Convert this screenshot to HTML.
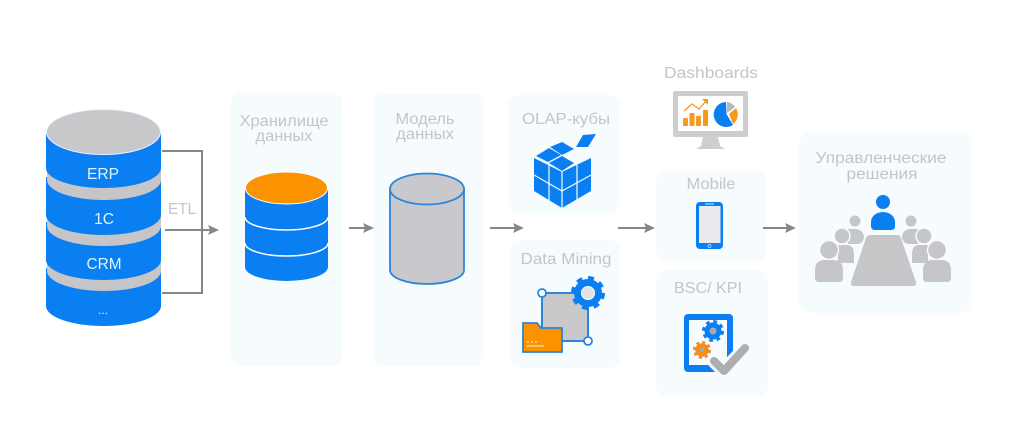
<!DOCTYPE html>
<html><head><meta charset="utf-8"><style>
html,body{margin:0;padding:0;background:#fff;width:1017px;height:445px;overflow:hidden}
svg{display:block}
text{font-family:"Liberation Sans","Noto Sans CJK SC",sans-serif}
.l{fill:#c2c5c9;font-size:15.500px;text-anchor:middle}
.w{fill:#e4f3ff;font-size:15.500px;text-anchor:middle}
.p{fill:#f6fbfe}
.a{stroke:#85878a;stroke-width:2;fill:none}
.h{fill:#85878a}
.g{fill:#c6c6c8}
</style></head><body>
<svg width="1017" height="445" viewBox="0 0 1017 445" xmlns="http://www.w3.org/2000/svg">
<!-- panels -->
<rect class="p" x="231" y="92" width="111" height="274" rx="10"/>
<rect class="p" x="373" y="94" width="111" height="272" rx="10"/>
<rect class="p" x="508" y="95" width="112" height="118" rx="10"/>
<rect class="p" x="510" y="240" width="110" height="128" rx="10"/>
<rect class="p" x="656" y="171" width="111" height="90" rx="10"/>
<rect class="p" x="656" y="270" width="112" height="126" rx="10"/>
<rect class="p" x="798" y="132" width="174" height="181" rx="14"/>

<!-- ETL connectors -->
<path class="a" d="M162 151H202V293H162"/>
<path class="a" d="M165 230H210"/>
<path class="h" d="M208 225L219 230L208 235L210 230Z"/>

<!-- source cylinder -->
<path fill="#0a7ff2" d="M46 268V306A57.500 20 0 0 0 161 306V268Z"/>
<path class="g" d="M47 250V271A57 20 0 0 0 161 271V250Z"/>
<path fill="#0a7ff2" d="M46 222V260A57.500 20 0 0 0 161 260V222Z"/>
<path class="g" d="M47 205V226A57 20 0 0 0 161 226V205Z"/>
<path fill="#0a7ff2" d="M46 177V215A57.500 20 0 0 0 161 215V177Z"/>
<path class="g" d="M47 160V180A57 20 0 0 0 161 180V160Z"/>
<path fill="#0a7ff2" d="M46 132V168A57.500 20 0 0 0 161 168V132Z"/>
<ellipse cx="103.500" cy="132" rx="57" ry="22.500" fill="#c8c8ca" stroke="#e8f4ff" stroke-width="1"/>
<text class="w" x="103" y="179" textLength="32" lengthAdjust="spacingAndGlyphs">ERP</text>
<text class="w" x="104" y="224">1C</text>
<text class="w" x="104" y="269" textLength="35" lengthAdjust="spacingAndGlyphs">CRM</text>
<text class="w" x="103" y="314" style="font-size:12px">...</text>
<text class="l" x="182" y="214" textLength="28" lengthAdjust="spacingAndGlyphs">ETL</text>

<!-- storage -->
<text class="l" x="284" y="126" textLength="89" lengthAdjust="spacingAndGlyphs">Хранилище</text>
<text class="l" x="284" y="141" textLength="57" lengthAdjust="spacingAndGlyphs">данных</text>
<path fill="#0a7ff2" d="M245 190V267A41.500 14 0 0 0 328 267V190Z"/>
<path d="M245 217A41.500 13 0 0 0 328 217M245 243A41.500 13 0 0 0 328 243" fill="none" stroke="#fff" stroke-width="1.500"/>
<ellipse cx="286.500" cy="188" rx="41" ry="16" fill="#fb9300" stroke="#fff" stroke-width="1"/>
<path class="a" d="M349 228H366"/>
<path class="h" d="M363 223L374 228L363 233L365 228Z"/>

<!-- model -->
<text class="l" x="425" y="124" textLength="59" lengthAdjust="spacingAndGlyphs">Модель</text>
<text class="l" x="425" y="139" textLength="58" lengthAdjust="spacingAndGlyphs">данных</text>
<path fill="#c9c9cd" stroke="#2a86d8" stroke-width="1.800" d="M390 189V270A37 14 0 0 0 464 270V189Z"/>
<ellipse cx="427" cy="189" rx="37" ry="15.500" fill="#c9c9cd" stroke="#2a86d8" stroke-width="1.800"/>
<path class="a" d="M490 228H516"/>
<path class="h" d="M513 223L524 228L513 233L515 228Z"/>

<!-- OLAP -->
<text class="l" x="566" y="124" textLength="88" lengthAdjust="spacingAndGlyphs">OLAP-кубы</text>
<g fill="#0a7ff2">
<path d="M534 158L562 172V208L534 191Z"/>
<path d="M591 158L562 172V208L591 191Z"/>
<path d="M536 156L549 148L561 155L548 162Z"/>
<path d="M550 147L562 142L574 149L562 155Z"/>
<path d="M549 163L562 156L574 163L562 171Z"/>
<path d="M576 147L583 135L596 134L588 147Z"/>
</g>
<path d="M534 175L562 191M562 191L591 175M549 165V201M577 165V201M562 172V208" stroke="#f6fbfe" stroke-width="1.200" fill="none"/>
<path class="a" d="M618 228H647"/>
<path class="h" d="M644 223L655 228L644 233L646 228Z"/>

<!-- Data mining -->
<text class="l" x="566" y="264" textLength="91" lengthAdjust="spacingAndGlyphs">Data Mining</text>
<rect x="542" y="293" width="46" height="48" fill="#c9c9cb" stroke="#2a86d8" stroke-width="2"/>
<circle cx="542" cy="293" r="4" fill="#fff" stroke="#2a86d8" stroke-width="1.800"/>
<circle cx="588" cy="341" r="4" fill="#fff" stroke="#2a86d8" stroke-width="1.800"/>
<circle cx="588" cy="293" r="15" fill="none" stroke="#0a7ff2" stroke-width="4" stroke-dasharray="5.900 5.880"/>
<circle cx="588" cy="293" r="10.500" fill="#fff" stroke="#0a7ff2" stroke-width="7"/>
<circle cx="588" cy="293" r="6" fill="#e2e2e4"/>
<path d="M523 323H537L541 328H562V352H523Z" fill="#fb9300" stroke="#2a86d8" stroke-width="1.800"/>
<path d="M527 346H544" stroke="#fde0b0" stroke-width="1.300"/>
<path d="M527 342H537" stroke="#fde0b0" stroke-width="1.300" stroke-dasharray="2 2"/>

<!-- Dashboards -->
<text class="l" x="711" y="78" textLength="94" lengthAdjust="spacingAndGlyphs">Dashboards</text>
<rect x="673" y="91" width="75" height="46" rx="2" fill="#cecece"/>
<rect x="678" y="96" width="65" height="35" fill="#fff"/>
<path d="M703 137H718L720 146L725 149H696L701 146Z" fill="#cecece"/>
<g fill="#f79a1c">
<rect x="683" y="118" width="5" height="8" rx="1"/>
<rect x="689.500" y="113" width="5" height="13" rx="1"/>
<rect x="696" y="116" width="5" height="10" rx="1"/>
<rect x="703" y="110" width="5" height="16" rx="1"/>
</g>
<path d="M684 111L692 104L699 109L707 100" stroke="#f79a1c" stroke-width="1.300" fill="none"/>
<path d="M702 99H708V105Z" fill="#f79a1c"/>
<path d="M726 102A12.500 12.500 0 1 0 733 125L726.500 114Z" fill="#0a7ff2"/>
<path d="M727 102V113L735 107A11 11 0 0 0 727 102Z" fill="#b6b6b8"/>
<path d="M729 114L736 108A12 12 0 0 1 733 124Z" fill="#f79a1c"/>

<!-- Mobile -->
<text class="l" x="711" y="189" textLength="49" lengthAdjust="spacingAndGlyphs">Mobile</text>
<rect x="696" y="202" width="27" height="47" rx="4" fill="#0a7ff2"/>
<rect x="699" y="206" width="21.500" height="37" fill="#e9ebee"/>
<path d="M705 204H714" stroke="#cfe6fb" stroke-width="1"/>
<circle cx="709.500" cy="246" r="1.500" fill="none" stroke="#cfe6fb" stroke-width=".7"/>
<path class="a" d="M763 228H788"/>
<path class="h" d="M785 223L796 228L785 233L787 228Z"/>

<!-- BSC -->
<text class="l" x="708" y="293" textLength="68" lengthAdjust="spacingAndGlyphs">BSC/ KPI</text>
<rect x="684" y="314" width="49" height="58" rx="4" fill="#0a7ff2"/>
<rect x="689" y="320" width="38" height="45" fill="#f6fbfe"/>
<circle cx="713" cy="331" r="9.500" fill="none" stroke="#0a7ff2" stroke-width="3" stroke-dasharray="3.730 3.730"/>
<circle cx="713" cy="331" r="6" fill="#a8a9ad" stroke="#0a7ff2" stroke-width="5"/>
<circle cx="702" cy="350" r="7.500" fill="none" stroke="#f28c1c" stroke-width="3" stroke-dasharray="2.950 2.940"/>
<circle cx="702" cy="350" r="4.500" fill="#a8a9ad" stroke="#f28c1c" stroke-width="4.500"/>
<path d="M714 361L724 371L745 348" fill="none" stroke="#f6fbfe" stroke-width="14" stroke-linecap="round" stroke-linejoin="round"/>
<path d="M714 361L724 371L745 348" fill="none" stroke="#adaeb2" stroke-width="8" stroke-linecap="round" stroke-linejoin="round"/>

<!-- Decisions -->
<text class="l" x="881" y="163" textLength="131" lengthAdjust="spacingAndGlyphs">Управленческие</text>
<text class="l" x="882" y="179" textLength="71" lengthAdjust="spacingAndGlyphs">решения</text>
<circle cx="883" cy="202" r="7" fill="#0a7ff2"/>
<path d="M871 226V222A12 10 0 0 1 895 222V226Q895 230 891 230H875Q871 230 871 226Z" fill="#0a7ff2"/>
<path d="M871 235H897Q900 235 901 238L916 282Q917 286 913 286H854Q850 286 851 282L866 238Q867 235 871 235Z" class="g"/>
<g class="g">
<circle cx="855" cy="221" r="5.500"/>
<path d="M848 244V229H856Q864 230 864 238Q862 244 858 244Z"/>
<circle cx="842" cy="236" r="8" stroke="#f6fbfe" stroke-width="1.500"/>
<path d="M838 263V245H848Q854 246 854 254V263Z"/>
<circle cx="829" cy="250" r="9.500" stroke="#f6fbfe" stroke-width="1.500"/>
<path d="M815 278V270Q815 260 825 260H833Q843 260 843 270V278Q843 282 839 282H819Q815 282 815 278Z"/>
</g>
<g class="g" transform="translate(1766 0) scale(-1 1)">
<circle cx="855" cy="221" r="5.500"/>
<path d="M848 244V229H856Q864 230 864 238Q862 244 858 244Z"/>
<circle cx="842" cy="236" r="8" stroke="#f6fbfe" stroke-width="1.500"/>
<path d="M838 263V245H848Q854 246 854 254V263Z"/>
<circle cx="829" cy="250" r="9.500" stroke="#f6fbfe" stroke-width="1.500"/>
<path d="M815 278V270Q815 260 825 260H833Q843 260 843 270V278Q843 282 839 282H819Q815 282 815 278Z"/>
</g>
</svg>
</body></html>
